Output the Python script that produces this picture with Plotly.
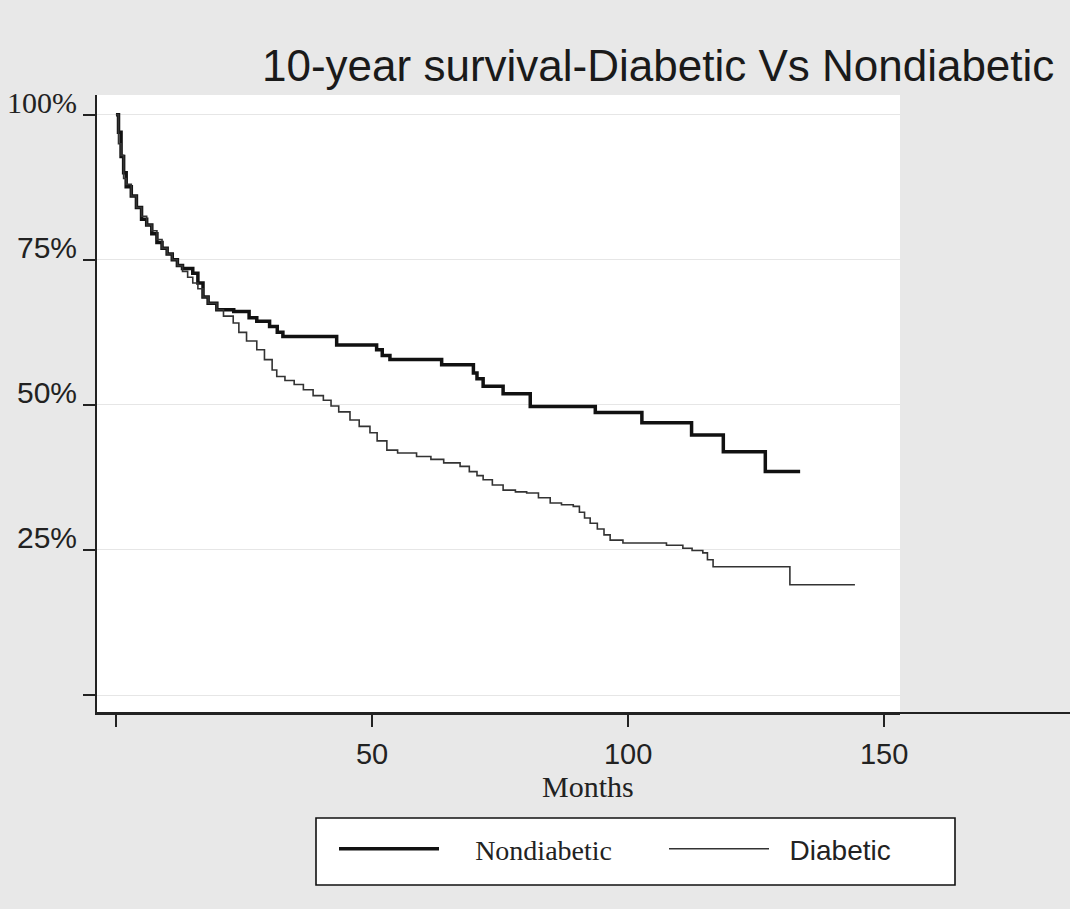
import plotly.graph_objects as go

# ---- data ----
nondiabetic_months = [0, 0.5, 1, 1.5, 2, 3, 4, 5, 6, 7, 8, 9, 10, 11, 12, 13, 15, 16, 17, 18,
                      19.7, 23, 26, 27.5, 30, 31.5, 32.6, 43.1, 50.9, 52, 53.5, 63.6, 69.8,
                      70.5, 71.7, 75.6, 80.9, 93.6, 102.7, 112.4, 118.6, 126.8, 133.6]
nondiabetic_surv = [100, 97, 92.8, 90, 87.6, 86, 84, 82, 81, 79.5, 78, 77, 76, 75, 74, 73.5,
                    72.7, 71, 68.6, 67.5, 66.4, 66.1, 65, 64.4, 63.5, 62.5, 61.8, 60.3, 59.5,
                    58.5, 57.8, 56.9, 55.5, 54.5, 53.2, 51.9, 49.7, 48.7, 46.9, 44.8, 41.9,
                    38.5, 38.5]

diabetic_months = [0, 0.5, 1, 1.5, 2, 3, 4, 5, 6, 7, 8, 9, 10, 11, 12, 13, 14, 15, 16, 17, 18,
                   19.7, 21, 22.9, 24, 25.5, 27.5, 29, 30.5, 31.4, 33, 34.8, 36.6, 38.5, 40.5,
                   42, 43.5, 45.7, 47.5, 49.6, 51, 52.9, 55, 58.7, 61.5, 64, 67.2, 69, 70.5,
                   71.7, 73.5, 75.6, 78, 80.2, 82.5, 84.8, 87, 89.3, 90.5, 91.5, 92.6, 94,
                   95.3, 96.5, 99, 107.5, 110.7, 112.5, 114.6, 115.5, 116.6, 131.6, 144.3]
diabetic_surv = [100, 95, 93, 89, 88, 86, 84, 82.5, 81, 80, 78.5, 77, 76, 75, 74, 73, 72, 71,
                 70, 68.6, 67.5, 66.4, 65.3, 64.1, 62.5, 61, 59.5, 57.8, 56, 54.9, 54.2, 53.5,
                 52.6, 51.6, 50.8, 49.8, 48.8, 47.4, 46.3, 45.2, 43.8, 42.2, 41.7, 41.1, 40.6,
                 40, 39.4, 38.5, 37.8, 37.1, 36.2, 35.3, 35.0, 34.8, 34.0, 33.1, 32.8, 32.5,
                 31.5, 30.5, 29.6, 28.6, 27.6, 26.7, 26.2, 25.8, 25.3, 24.9, 24.5, 23.3, 22.1,
                 19.0, 19.0]

y_tick_vals = [0, 25, 50, 75, 100]
y_tick_text = ["", "25%", "50%", "75%",
               "<span style='font-family:Liberation Serif'>100%</span>"]
x_tick_vals = [0, 50, 100, 150]
x_tick_text = ["", "50", "100", "150"]

# plot area in pixels (layout only)
L, R, T, B = 97, 900, 95, 713
W, H = R - L, B - T


def px_x(p):
    return (p - L) / W


def px_y(p):
    return (B - p) / H


fig = go.Figure()
fig.add_trace(go.Scatter(
    x=nondiabetic_months, y=nondiabetic_surv, mode="lines", line_shape="hv",
    name="\u00a0" * 4 + "<span style='font-family:Liberation Serif'>Nondiabetic</span>",
    line=dict(color="#111111", width=3.5)))
fig.add_trace(go.Scatter(
    x=diabetic_months, y=diabetic_surv, mode="lines", line_shape="hv",
    name="\u00a0" * 2 + "Diabetic", line=dict(color="#333333", width=1.6)))

fig.update_layout(
    width=1070, height=909,
    margin=dict(l=L, r=1070 - R, t=T, b=909 - B),
    paper_bgcolor="#e8e8e8",
    plot_bgcolor="#ffffff",
    title=dict(text="10-year survival-Diabetic Vs Nondiabetic",
               x=262 / 1070, xanchor="left", xref="container",
               y=1 - 66 / 909, yanchor="middle", yref="container",
               font=dict(family="Liberation Sans", size=44, color="#1a1a1a")),
    font=dict(family="Liberation Sans", color="#222222"),
    showlegend=True,
    legend=dict(orientation="h", x=334 / 1070, xref="container",
                xanchor="left", y=1 - 849 / 909, yref="container", yanchor="middle",
                bgcolor="rgba(0,0,0,0)", borderwidth=0,
                font=dict(size=28, color="#222222"), entrywidth=215, itemwidth=100),
    xaxis=dict(range=[-3.7, 153.1], tickvals=x_tick_vals, ticktext=x_tick_text,
               ticks="outside", ticklen=12, tickwidth=1.5, tickcolor="#222222",
               showline=True, linecolor="#222222", linewidth=2, automargin=False,
               showgrid=False, zeroline=False, ticklabelstandoff=2,
               tickfont=dict(family="Liberation Sans", size=29)),
    yaxis=dict(range=[-3.1, 103.4], tickvals=y_tick_vals, ticktext=y_tick_text,
               ticks="outside", ticklen=12, tickwidth=1.5, tickcolor="#222222",
               showline=True, linecolor="#222222", linewidth=2, automargin=False,
               showgrid=True, gridcolor="#e6e6e6", gridwidth=1, zeroline=False,
               ticklabelshift=-12, ticklabelstandoff=0,
               tickfont=dict(family="Liberation Sans", size=30)),
    annotations=[dict(text="Months", xref="paper", yref="paper",
                      x=px_x(588), y=px_y(786), xanchor="center", yanchor="middle",
                      showarrow=False,
                      font=dict(family="Liberation Serif", size=30, color="#222222"))],
    shapes=[dict(type="line", xref="paper", yref="paper", x0=0, x1=px_x(1070),
                 y0=0, y1=0, line=dict(color="#222222", width=2)),
            dict(type="rect", xref="paper", yref="paper", layer="below",
                 x0=px_x(316), x1=px_x(955), y0=px_y(885), y1=px_y(818),
                 fillcolor="#ffffff", line=dict(color="#111111", width=1.6))],
)

fig.write_html("out.html")
